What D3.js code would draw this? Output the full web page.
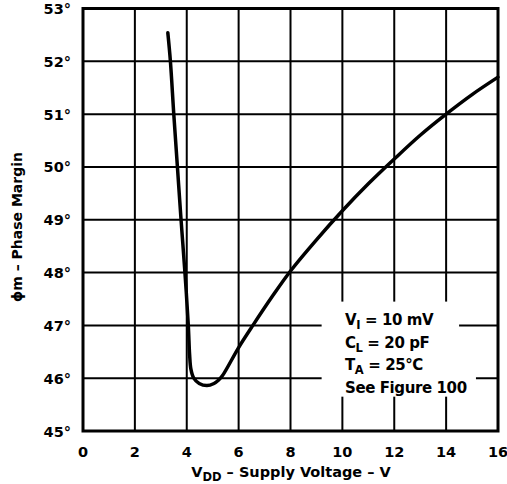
<!DOCTYPE html>
<html><head><meta charset="utf-8">
<script src="https://cdn.jsdelivr.net/npm/d3@7"></script>
<style>body{margin:0;background:#fff}svg{display:block}text{font-family:"DejaVu Sans",sans-serif;font-weight:bold;fill:#000}</style>
</head><body>
<script>
const xTicks = [0,2,4,6,8,10,12,14,16];
const yTicks = [45,46,47,48,49,50,51,52,53];
const yTickLabels = ["45°","46°","47°","48°","49°","50°","51°","52°","53°"];
const vdd = [3.27,3.37,3.5,3.64,3.78,3.93,4.06,4.11,4.16,4.27,4.48,4.78,5.05,5.22,5.38,6.0,6.55,7.3,8.0,9.0,10.0,11.0,12.0,13.0,14.0,15.0,16.0];
const phase = [52.54,52.0,51.0,50.0,49.0,48.0,47.0,46.45,46.17,46.0,45.9,45.86,45.9,45.96,46.05,46.58,47.0,47.55,48.03,48.62,49.17,49.68,50.15,50.6,51.0,51.37,51.7];
const legendLines = [["V","I"," = 10 mV"],["C","L"," = 20 pF"],["T","A"," = 25°C"],["See Figure 100","",""]];

const W=507,H=484;
const svg=d3.select("body").append("svg").attr("width",W).attr("height",H);
const x=d3.scaleLinear().domain([0,16]).range([83,498]);
const y=d3.scaleLinear().domain([45,53]).range([431,8.5]);

// grid
const g=svg.append("g");
g.selectAll("line.v").data(xTicks.slice(1,-1)).join("line")
 .attr("x1",d=>x(d)).attr("x2",d=>x(d)).attr("y1",y(53)).attr("y2",y(45))
 .attr("stroke","#000").attr("stroke-width",2);
g.selectAll("line.h").data(yTicks.slice(1,-1)).join("line")
 .attr("y1",d=>y(d)).attr("y2",d=>y(d)).attr("x1",x(0)).attr("x2",x(16))
 .attr("stroke","#000").attr("stroke-width",2);
// legend knockout
svg.append("rect").attr("x",x(9.2)).attr("y",y(47.45)).attr("width",x(14.5)-x(9.2)).attr("height",y(45.65)-y(47.45)).attr("fill","#fff");
svg.append("rect").attr("x",x(14.4)).attr("y",y(46.4)).attr("width",x(15.15)-x(14.4)).attr("height",y(45.65)-y(46.4)).attr("fill","#fff");
// frame
svg.append("rect").attr("x",x(0)).attr("y",y(53)).attr("width",x(16)-x(0)).attr("height",y(45)-y(53))
 .attr("fill","none").attr("stroke","#000").attr("stroke-width",3);

// axes labels
svg.selectAll("text.xt").data(xTicks).join("text").attr("class","xt")
 .attr("x",d=>x(d)).attr("y",457).attr("text-anchor","middle").attr("font-size",14.5).text(d=>d);
svg.selectAll("text.yt").data(yTicks).join("text").attr("class","yt")
 .attr("x",71).attr("y",d=>y(d)+5.5).attr("text-anchor","end").attr("font-size",14.5).text((d,i)=>yTickLabels[i]);

// x title
const xt=svg.append("text").attr("x",291).attr("y",477).attr("text-anchor","middle").attr("font-size",14.5);
xt.append("tspan").text("V");
xt.append("tspan").attr("font-size",11.5).attr("dy",4).text("DD");
xt.append("tspan").attr("dy",-4).text(" – Supply Voltage – V");
// y title
svg.append("text").attr("transform","translate(22,227) rotate(-90)").attr("text-anchor","middle").attr("font-size",14)
 .text("ϕm – Phase Margin");

// curve
const line=d3.line().x(d=>x(d[0])).y(d=>y(d[1])).curve(d3.curveCatmullRom.alpha(0.5));
svg.append("path").datum(vdd.map((v,i)=>[v,phase[i]])).attr("d",line)
 .attr("fill","none").attr("stroke","#000").attr("stroke-width",3.5).attr("stroke-linejoin","round").attr("stroke-linecap","round");

// legend
const lg=svg.append("g");
legendLines.forEach((l,i)=>{
  const t=lg.append("text").attr("x",345).attr("y",325+i*22.7).attr("font-size",15).attr("letter-spacing",-0.4);
  t.append("tspan").text(l[0]);
  if(l[1]){ t.append("tspan").attr("font-size",11.5).attr("dy",4).text(l[1]); t.append("tspan").attr("dy",-4).text(l[2]); }
});
</script>
</body></html>
